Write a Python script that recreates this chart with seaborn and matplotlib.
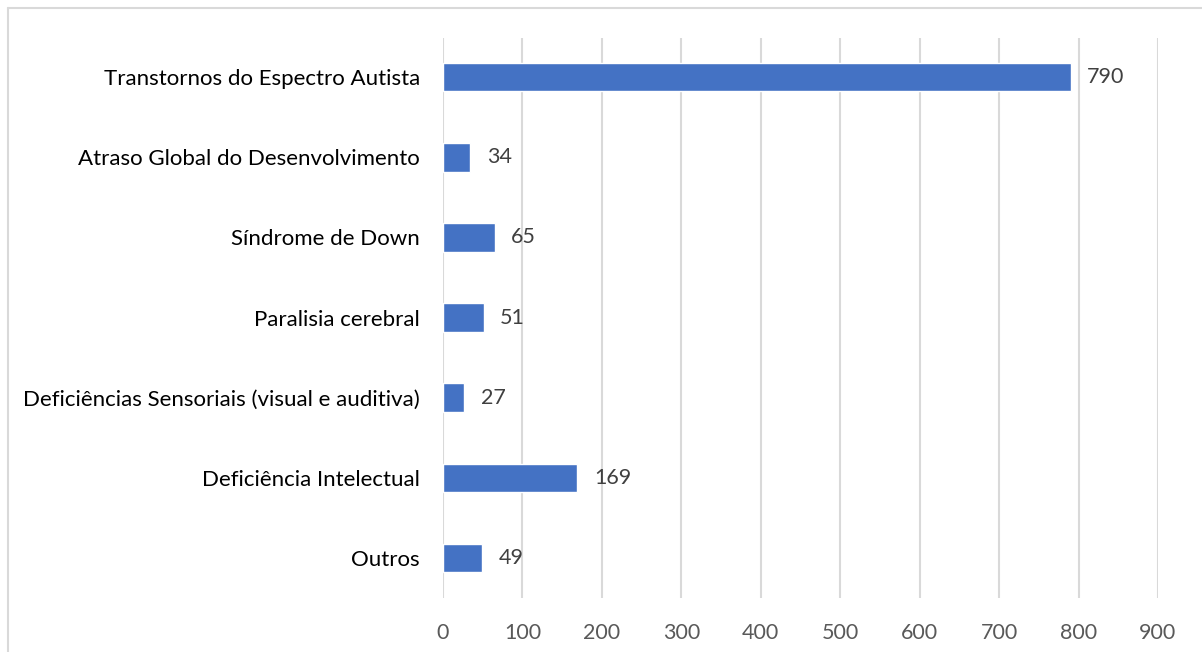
import matplotlib
matplotlib.use("Agg")
import matplotlib.pyplot as plt
import seaborn as sns
import pandas as pd
from matplotlib.lines import Line2D

categories = [
    "Transtornos do Espectro Autista",
    "Atraso Global do Desenvolvimento",
    "Síndrome de Down",
    "Paralisia cerebral",
    "Deficiências Sensoriais (visual e auditiva)",
    "Deficiência Intelectual",
    "Outros",
]
values = [790, 34, 65, 51, 27, 169, 49]
x_ticks = [0, 100, 200, 300, 400, 500, 600, 700, 800, 900]

df = pd.DataFrame({"categoria": categories, "total": values})

sns.set_theme(style="white")
plt.rcParams["font.family"] = ["Lato", "DejaVu Sans"]

W, H = 1202, 652
fig = plt.figure(figsize=(W / 100, H / 100), dpi=100)
ax = fig.add_axes([443 / W, 1 - 598 / H, (1158 - 443) / W, (598 - 38) / H])

sns.barplot(data=df, y="categoria", x="total", orient="h", color="#4472C4",
            width=0.355, saturation=1, ax=ax, zorder=3)

ax.set_xlim(0, 900)
ax.set_ylim(6.5, -0.49)
ax.set_xticks(x_ticks)
ax.set_xticklabels([str(t) for t in x_ticks], fontsize=15.5, color="#595959")
ax.tick_params(axis="x", length=0, pad=18)
ax.tick_params(axis="y", length=0, pad=16.5, labelsize=16, labelcolor="#000000")
ax.set_xlabel("")
ax.set_ylabel("")
for s in ax.spines.values():
    s.set_visible(False)
ax.xaxis.grid(True, color="#d9d9d9", linewidth=1.5, zorder=0)
ax.set_axisbelow(True)

for cont in ax.containers:
    ax.bar_label(cont, labels=[str(v) for v in values], padding=12,
                 fontsize=15.5, color="#404040")

# chart frame
fig.add_artist(Line2D([8 / W, 8 / W], [0, 1 - 8 / H], transform=fig.transFigure,
                      color="#d9d9d9", linewidth=1.5))
fig.add_artist(Line2D([8 / W, 1], [1 - 8 / H, 1 - 8 / H], transform=fig.transFigure,
                      color="#d9d9d9", linewidth=1.5))

fig.savefig("out.png", dpi=100, facecolor="white")
